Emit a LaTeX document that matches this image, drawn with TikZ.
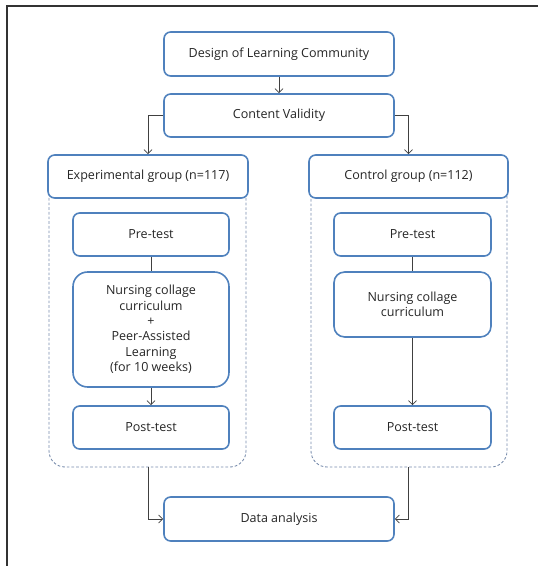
\documentclass[tikz,border=0pt]{standalone}
\usepackage{fontspec}
\setmainfont{Open Sans}
\usetikzlibrary{arrows.meta}

\definecolor{boxblue}{RGB}{79,129,189}
\definecolor{dashblue}{RGB}{120,140,172}
\definecolor{linegray}{RGB}{64,64,64}

\begin{document}
\begin{tikzpicture}[x=0.75pt,y=-0.75pt,
  stage/.style={draw=boxblue,line width=1.2pt,fill=white,rounded corners=5pt,
    inner sep=2pt,align=center,text=black!85,
    font=\fontsize{9.4}{11.5}\selectfont},
  group/.style={draw=dashblue,line width=0.65pt,dash pattern=on 2pt off 1.5pt,
    rounded corners=12pt,inner sep=0pt},
  flow/.style={draw=linegray,line width=0.6pt},
  tip/.style={-{Straight Barb[length=3pt,width=6pt]}}]
  \useasboundingbox (0,0) rectangle (538,566);
  \draw[line width=1.5pt,black!80] (6.5,566) -- (6.5,6.5) -- (538,6.5);

  % dashed frames round the two arms
  \node[group,minimum width=147.75pt,minimum height=218.25pt] (expbox) at (147.5,321.5) {};
  \node[group,minimum width=147pt,minimum height=218.25pt] (ctlbox) at (409,321.5) {};

  \draw (279,54) node[stage,minimum width=172.5pt,minimum height=33pt] (design) {Design of Learning Community};
  \draw (279,115.5) node[stage,minimum width=172.5pt,minimum height=32.25pt] (valid) {Content Validity};
  \draw (148,176.5) node[stage,minimum width=150pt,minimum height=32.25pt] (expgrp) {Experimental group (n=117)};
  \draw (408.5,176.5) node[stage,minimum width=149.25pt,minimum height=32.25pt] (ctlgrp) {Control group (n=112)};

  % experimental arm
  \draw (151,234.5) node[stage,minimum width=117pt,minimum height=32.25pt] (exppre) {Pre-test};
  \draw (151,329.5) node[stage,rounded corners=11pt,minimum width=117pt,minimum height=86.25pt] (expcur)
    {Nursing collage\\curriculum\\+\\Peer-Assisted\\Learning\\(for 10 weeks)};
  \draw (151,427.5) node[stage,minimum width=117pt,minimum height=32.25pt] (exppost) {Post-test};

  % control arm
  \draw (412.5,234.5) node[stage,minimum width=117.75pt,minimum height=32.25pt] (ctlpre) {Pre-test};
  \draw (412.5,304.5) node[stage,rounded corners=8pt,minimum width=117.75pt,minimum height=48.75pt] (ctlcur)
    {Nursing collage\\curriculum};
  \draw (412.5,427.5) node[stage,minimum width=117.75pt,minimum height=32.25pt] (ctlpost) {Post-test};

  \draw (279,519) node[stage,minimum width=172.5pt,minimum height=33pt] (data) {Data analysis};

  \draw[flow,tip] (design) -- (valid);
  \draw[flow,tip] (valid.west) -| (expgrp.north);
  \draw[flow,tip] (valid.east) -| (ctlgrp.north);
  \draw[flow] (exppre) -- (expcur);
  \draw[flow,tip] (expcur) -- (exppost);
  \draw[flow] (ctlpre) -- (ctlcur);
  \draw[flow,tip] (ctlcur) -- (ctlpost);
  \draw[flow,tip] (expbox.south -| expgrp) |- (data.west);
  \draw[flow,tip] (ctlbox.south -| ctlgrp) |- (data.east);
\end{tikzpicture}
\end{document}
